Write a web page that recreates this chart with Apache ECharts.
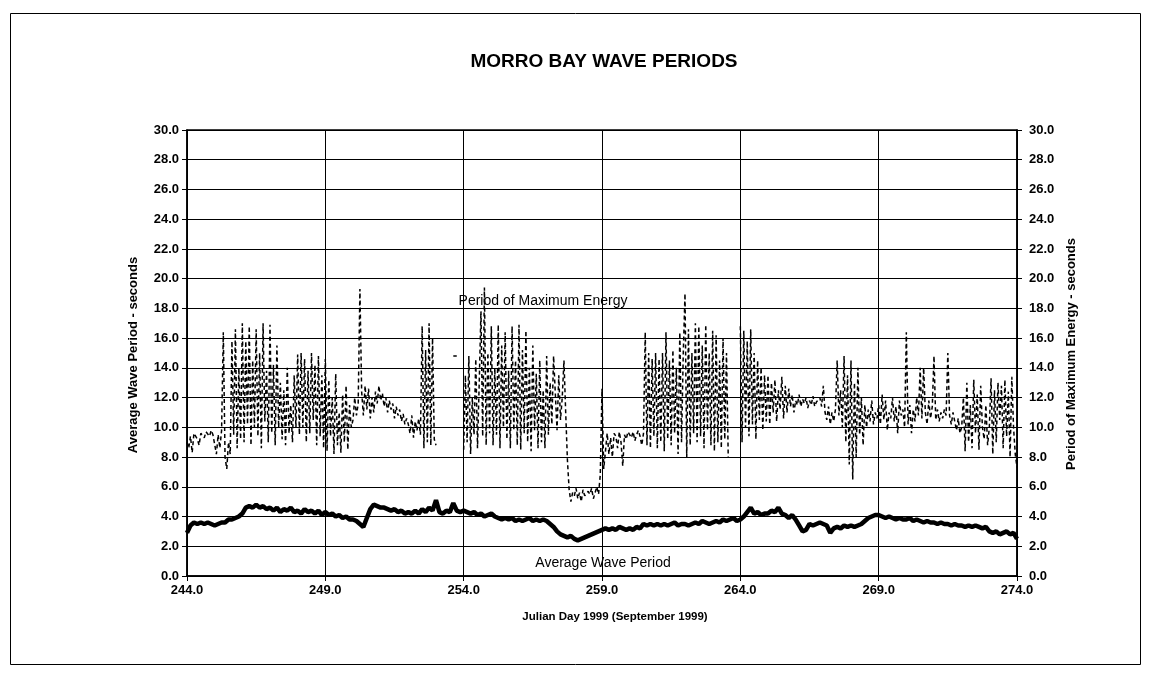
<!DOCTYPE html>
<html>
<head>
<meta charset="utf-8">
<script src="https://cdn.jsdelivr.net/npm/echarts@6/dist/echarts.min.js"></script>
<style>
html,body{margin:0;padding:0;background:#fff;}
#chart{width:1154px;height:677px;}
</style>
</head>
<body>
<div id="chart"></div>
<script>
// Julian day grid starts at day 244.0
const startDay = 244;
const peakStep = 1 / 16;   // peak period: 16 readings per day (every 1.5 h)
const avgStep = 0.125;     // average period: 8 readings per day (every 3 h)

// Period of Maximum Energy (seconds), 16 values per day
const peakPeriod = [
  9.0, 8.6, 9.4, 8.3, 9.6, 9.5, 9.2, 8.8, 9.6, 9.5, 9.3, 9.7, 9.6, 9.4, 9.8, 9.5,            // 244
  9.6, 8.2, 9.5, 8.6, 9.8, 16.4, 8.0, 7.2, 9.0, 8.2, 15.8, 9.5, 16.6, 8.6, 14.0, 9.2,        // 245
  17.0, 9.0, 15.8, 10.2, 16.8, 8.8, 14.5, 10.0, 16.6, 9.4, 15.0, 8.6, 17.0, 10.4, 13.8, 9.0, // 246
  16.9, 9.6, 14.2, 8.8, 15.5, 10.0, 13.0, 9.2, 12.5, 8.8, 14.0, 9.6, 11.5, 9.0, 13.5, 10.0,  // 247
  14.9, 9.5, 15.0, 10.0, 14.6, 9.0, 13.8, 9.6, 15.0, 10.5, 14.2, 8.8, 14.8, 9.4, 13.5, 8.6,  // 248
  14.6, 8.4, 13.2, 9.4, 12.0, 8.2, 13.6, 8.8, 11.0, 8.3, 12.2, 9.0, 12.8, 8.5, 11.5, 10.0,   // 249
  10.5, 12.0, 10.8, 11.6, 19.3, 12.4, 10.8, 12.8, 11.2, 12.6, 10.6, 12.0, 11.0, 12.4, 11.6, 12.8, // 250
  11.8, 12.3, 11.4, 12.0, 11.0, 11.8, 11.2, 11.6, 10.6, 11.4, 10.8, 11.2, 10.4, 10.9, 10.2, 10.6, // 251
  10.2, 9.6, 10.8, 9.3, 10.4, 9.8, 10.6, 9.5, 16.8, 8.6, 15.2, 9.0, 17.0, 8.8, 16.0, 9.2,    // 252
  8.8, null, null, null, null, null, null, null, null, null, 14.8, 14.8, 14.8, null, null, null, // 253
  8.5, 13.5, 9.0, 14.8, 8.2, 12.0, 9.5, 14.6, 8.6, 13.0, 17.8, 9.4, 19.4, 8.8, 15.0, 9.6,    // 254
  16.8, 8.8, 14.0, 9.5, 16.9, 8.6, 15.5, 10.0, 16.4, 9.2, 13.8, 8.6, 16.8, 9.8, 14.5, 8.8,   // 255
  16.9, 8.5, 15.2, 9.6, 16.5, 9.0, 14.0, 8.4, 15.5, 9.8, 13.6, 8.6, 14.5, 9.0, 12.5, 8.6,    // 256
  14.8, 9.5, 13.0, 10.2, 14.8, 14.8, 9.8, 13.5, 10.5, 12.0, 14.5, 11.0, 7.8, 5.8, 5.0, 5.6,  // 257
  5.4, 5.9, 5.2, 5.6, 5.0, 5.8, 5.4, 5.3, 5.7, 5.5, 5.9, 5.2, 5.6, 6.0, 5.5, 6.8,            // 258
  12.6, 7.2, 8.4, 9.6, 8.2, 9.3, 8.0, 9.6, 9.4, 8.6, 9.7, 9.0, 7.4, 9.5, 9.2, 9.7,           // 259
  9.6, 9.3, 9.7, 9.1, 9.5, 9.8, 9.4, 8.8, 9.6, 16.4, 8.8, 15.0, 8.6, 14.6, 9.4, 15.0,        // 260
  8.6, 14.6, 9.0, 15.0, 8.4, 16.4, 9.2, 14.5, 8.8, 15.2, 9.6, 14.0, 8.2, 16.4, 9.0, 15.0,    // 261
  19.0, 8.0, 16.6, 8.8, 15.0, 9.6, 17.0, 9.0, 16.8, 9.4, 15.5, 8.6, 16.9, 9.8, 15.0, 8.8,    // 262
  16.5, 8.4, 16.2, 9.0, 14.5, 8.6, 16.0, 9.2, 15.0, 8.0, null, null, null, null, null, null, // 263
  16.8, 9.0, 16.5, 10.0, 15.8, 9.4, 16.6, 10.2, 15.0, 9.2, 14.5, 10.5, 14.0, 9.8, 13.5, 10.4, // 264
  13.5, 10.2, 13.0, 11.0, 13.2, 10.4, 12.5, 11.2, 13.4, 10.6, 12.8, 11.0, 12.6, 11.4, 12.2, 11.0, // 265
  11.8, 11.5, 12.2, 11.4, 11.9, 11.6, 12.0, 11.3, 11.8, 11.5, 12.1, 11.4, 11.7, 11.6, 12.0, 11.4, // 266
  12.8, 11.0, 10.5, 11.4, 10.2, 11.0, 10.4, 11.2, 14.5, 10.8, 12.5, 10.0, 14.8, 9.0, 13.5, 7.5, // 267
  14.5, 6.5, 13.0, 8.0, 14.0, 9.5, 12.0, 8.8, 11.5, 10.0, 11.2, 10.4, 11.8, 10.2, 11.0, 10.6, // 268
  11.5, 10.2, 12.2, 10.5, 11.8, 9.8, 11.0, 10.6, 12.0, 10.4, 11.4, 9.6, 11.8, 10.8, 11.2, 10.0, // 269
  16.4, 10.2, 11.5, 9.6, 11.2, 10.4, 12.0, 10.8, 14.0, 10.6, 14.0, 11.0, 10.2, 11.8, 10.6, 11.4, // 270
  14.8, 10.5, 11.2, 10.4, 11.0, 10.6, 11.2, 10.8, 15.0, 10.8, 10.2, 11.0, 10.4, 9.8, 10.6, 9.6, // 271
  10.0, 12.0, 8.4, 13.0, 9.0, 11.5, 8.6, 13.2, 9.6, 12.2, 8.5, 12.8, 10.0, 9.2, 11.5, 8.8,   // 272
  10.0, 13.3, 8.2, 12.5, 9.0, 13.0, 10.5, 12.8, 8.6, 13.2, 9.4, 12.4, 8.0, 13.4, 10.0, 8.2,  // 273
  7.3                                                                                          // 274
];

// Average Wave Period (seconds), 8 values per day
const avgPeriod = [
  2.9, 3.4, 3.6, 3.5, 3.6, 3.5, 3.6, 3.5,   // 244
  3.4, 3.5, 3.6, 3.6, 3.8, 3.8, 3.9, 4.0,   // 245
  4.2, 4.6, 4.7, 4.6, 4.8, 4.6, 4.7, 4.5,   // 246
  4.6, 4.4, 4.6, 4.3, 4.5, 4.4, 4.6, 4.3,   // 247
  4.4, 4.2, 4.5, 4.3, 4.4, 4.2, 4.4, 4.1,   // 248
  4.3, 4.1, 4.2, 4.0, 4.1, 3.9, 4.0, 3.8,   // 249
  3.8, 3.7, 3.5, 3.3, 3.9, 4.5, 4.8, 4.7,   // 250
  4.6, 4.6, 4.5, 4.4, 4.5, 4.3, 4.4, 4.2,   // 251
  4.3, 4.2, 4.4, 4.2, 4.5, 4.3, 4.6, 4.4,   // 252
  5.1, 4.3, 4.2, 4.4, 4.3, 4.9, 4.4, 4.3,   // 253
  4.4, 4.3, 4.2, 4.3, 4.1, 4.2, 4.0, 4.1,   // 254
  4.2, 4.0, 3.9, 3.8, 3.9, 3.8, 3.9, 3.7,   // 255
  3.8, 3.7, 3.8, 3.9, 3.7, 3.8, 3.7, 3.8,   // 256
  3.7, 3.5, 3.3, 3.0, 2.8, 2.7, 2.6, 2.7,   // 257
  2.5, 2.4, 2.5, 2.6, 2.7, 2.8, 2.9, 3.0,   // 258
  3.1, 3.2, 3.1, 3.2, 3.1, 3.3, 3.2, 3.1,   // 259
  3.2, 3.1, 3.3, 3.2, 3.5, 3.4, 3.5, 3.4,   // 260
  3.5, 3.4, 3.5, 3.4, 3.5, 3.6, 3.4, 3.5,   // 261
  3.5, 3.4, 3.5, 3.6, 3.5, 3.7, 3.6, 3.5,   // 262
  3.6, 3.7, 3.6, 3.8, 3.7, 3.8, 3.9, 3.7,   // 263
  3.8, 4.0, 4.3, 4.6, 4.2, 4.3, 4.1, 4.2,   // 264
  4.2, 4.4, 4.3, 4.6, 4.2, 4.1, 3.9, 4.1,   // 265
  3.8, 3.4, 3.0, 3.1, 3.5, 3.4, 3.5, 3.6,   // 266
  3.5, 3.4, 2.9, 3.2, 3.3, 3.2, 3.4, 3.3,   // 267
  3.4, 3.3, 3.4, 3.5, 3.7, 3.9, 4.0, 4.1,   // 268
  4.1, 4.0, 3.9, 4.0, 3.9, 3.8, 3.9, 3.8,   // 269
  3.8, 3.9, 3.7, 3.8, 3.7, 3.6, 3.7, 3.6,   // 270
  3.6, 3.5, 3.6, 3.5, 3.5, 3.4, 3.5, 3.4,   // 271
  3.4, 3.3, 3.4, 3.3, 3.4, 3.3, 3.2, 3.3,   // 272
  3.0, 2.9, 3.0, 2.8, 2.9, 3.0, 2.8, 2.9,   // 273
  2.5                                       // 274
];

const titleText = 'MORRO BAY WAVE PERIODS';
const xAxisName = 'Julian Day 1999 (September 1999)';
const yLeftName = 'Average Wave Period - seconds';
const yRightName = 'Period of Maximum Energy - seconds';
const peakLabel = 'Period of Maximum Energy';
const avgLabel = 'Average Wave Period';

const toPairs = (arr, step) => arr.map((v, i) => [startDay + i * step, v]);

const FONT = '"Liberation Sans", Arial, sans-serif';
const chart = echarts.init(document.getElementById('chart'), null, {renderer: 'canvas'});

const labelStyle = {formatter: v => v.toFixed(1), color: '#000', fontFamily: FONT, fontWeight: 'bold', fontSize: 13};

chart.setOption({
  backgroundColor: '#fff',
  animation: false,
  grid: {left: 187, right: 137, top: 130, bottom: 101, show: true, borderColor: '#000', borderWidth: 1.5},
  xAxis: {
    type: 'value', min: 244, max: 274, interval: 5,
    axisLine: {show: true, onZero: false, lineStyle: {color: '#000', width: 1.5}},
    axisTick: {show: true, length: 5, lineStyle: {color: '#000'}},
    axisLabel: Object.assign({margin: 8}, labelStyle),
    splitLine: {show: true, lineStyle: {color: '#000', width: 1}}
  },
  yAxis: [
    {
      type: 'value', min: 0, max: 30, interval: 2, position: 'left',
      axisLine: {show: true, lineStyle: {color: '#000', width: 1.5}},
      axisTick: {show: true, length: 5, lineStyle: {color: '#000'}},
      axisLabel: Object.assign({margin: 8}, labelStyle),
      splitLine: {show: true, lineStyle: {color: '#000', width: 1}}
    },
    {
      type: 'value', min: 0, max: 30, interval: 2, position: 'right',
      axisLine: {show: true, lineStyle: {color: '#000', width: 1.5}},
      axisTick: {show: true, length: 5, lineStyle: {color: '#000'}},
      axisLabel: Object.assign({margin: 12}, labelStyle),
      splitLine: {show: false}
    }
  ],
  series: [
    {
      name: peakLabel, type: 'line', yAxisIndex: 0,
      data: toPairs(peakPeriod, peakStep), showSymbol: false, connectNulls: false,
      lineStyle: {color: '#000', width: 1.5, type: [4, 3]},
      z: 3
    },
    {
      name: avgLabel, type: 'line', yAxisIndex: 0,
      data: toPairs(avgPeriod, avgStep), showSymbol: false,
      lineStyle: {color: '#000', width: 4.5},
      z: 4
    }
  ],
  graphic: [
    {type: 'rect', shape: {x: 10.5, y: 13.5, width: 1130, height: 651}, style: {fill: null, stroke: '#000', lineWidth: 1}, silent: true},
    {type: 'text', x: 604, y: 62, style: {text: titleText, fill: '#000', font: 'bold 19px ' + FONT, textAlign: 'center', textVerticalAlign: 'middle'}},
    {type: 'text', x: 615, y: 617, style: {text: xAxisName, fill: '#000', font: 'bold 11.5px ' + FONT, textAlign: 'center', textVerticalAlign: 'middle'}},
    {type: 'text', x: 133, y: 355, rotation: Math.PI / 2, style: {text: yLeftName, fill: '#000', font: 'bold 13px ' + FONT, textAlign: 'center', textVerticalAlign: 'middle'}},
    {type: 'text', x: 1071, y: 354, rotation: Math.PI / 2, style: {text: yRightName, fill: '#000', font: 'bold 13px ' + FONT, textAlign: 'center', textVerticalAlign: 'middle'}},
    {type: 'text', x: 543, y: 301, style: {text: peakLabel, fill: '#000', font: '14px ' + FONT, textAlign: 'center', textVerticalAlign: 'middle'}, z: 10},
    {type: 'text', x: 603, y: 563, style: {text: avgLabel, fill: '#000', font: '14px ' + FONT, textAlign: 'center', textVerticalAlign: 'middle'}, z: 10}
  ]
});
</script>
</body>
</html>
